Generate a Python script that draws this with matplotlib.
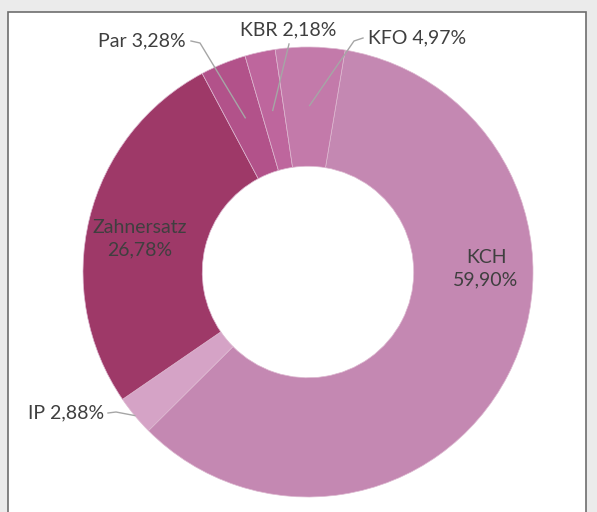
import numpy as np
import matplotlib
matplotlib.use("Agg")
import matplotlib.pyplot as plt
from matplotlib.patches import Rectangle

labels = ["KCH", "IP", "Zahnersatz", "Par", "KBR", "KFO"]
shares = [59.90, 2.88, 26.78, 3.28, 2.18, 4.97]
colors = ["#C488B2", "#D5A3C6", "#9E3968", "#B2528A", "#BE669D", "#C37AAA"]

W, H = 597, 512
CX, CY, R = 308, 272, 225
START = 80.5


def px(x, y):
    # pixel position -> data coordinates (pie centre at 0,0, radius 1)
    return (x - CX) / R, (CY - y) / R


def pct(v):
    return f"{v:.2f}%".replace(".", ",")


fig = plt.figure(figsize=(W / 100, H / 100), dpi=100)
fig.patch.set_facecolor("#EBEBEB")

ax = fig.add_axes([0, 0, 1, 1])
ax.set_facecolor("none")
ax.add_patch(Rectangle((8 / W, -0.1), 578 / W, 1.1 - 12 / H,
                       transform=fig.transFigure, facecolor="white",
                       edgecolor="#6E6E6E", linewidth=1.2, zorder=-10))
wedges, _ = ax.pie(shares, colors=colors, startangle=START, counterclock=False,
                   radius=1.0, wedgeprops=dict(width=0.53, edgecolor="#DDB8D0", linewidth=0.5))
ax.set_xlim(px(0, 0)[0], px(W, 0)[0])
ax.set_ylim(px(0, H)[1], px(0, 0)[1])
ax.set_aspect("auto")
ax.axis("off")

font = dict(family="Lato", fontsize=14, color="#3F3F3F")

# labels inside the ring
for name, pos in [("KCH", (486, 269)), ("Zahnersatz", (140, 239))]:
    i = labels.index(name)
    ax.text(*px(*pos), f"{name}\n{pct(shares[i])}", ha="center", va="center",
            linespacing=1.4, **font)

# labels outside with leader lines
outside = {
    "Par": dict(text=(186, 41), ha="right", path=[(191, 41), (200, 43)], r=0.74),
    "KBR": dict(text=(288, 30), ha="center", path=[(289, 44)], r=0.735),
    "KFO": dict(text=(368, 38), ha="left", path=[(363, 38), (354, 41)], r=0.74),
    "IP": dict(text=(104, 413), ha="right", path=[(108, 413), (116, 412)], r=1.0),
}
for name, o in outside.items():
    i = labels.index(name)
    w = wedges[i]
    mid = np.deg2rad((w.theta1 + w.theta2) / 2)
    end = (o["r"] * np.cos(mid), o["r"] * np.sin(mid))
    pts = [px(*p) for p in o["path"]] + [end]
    xs, ys = zip(*pts)
    ax.plot(xs, ys, color="#A6A6A6", linewidth=1.0, zorder=5)
    ax.text(*px(*o["text"]), f"{name} {pct(shares[i])}", ha=o["ha"], va="center", **font)

fig.savefig("out.png", dpi=100, facecolor=fig.get_facecolor())
